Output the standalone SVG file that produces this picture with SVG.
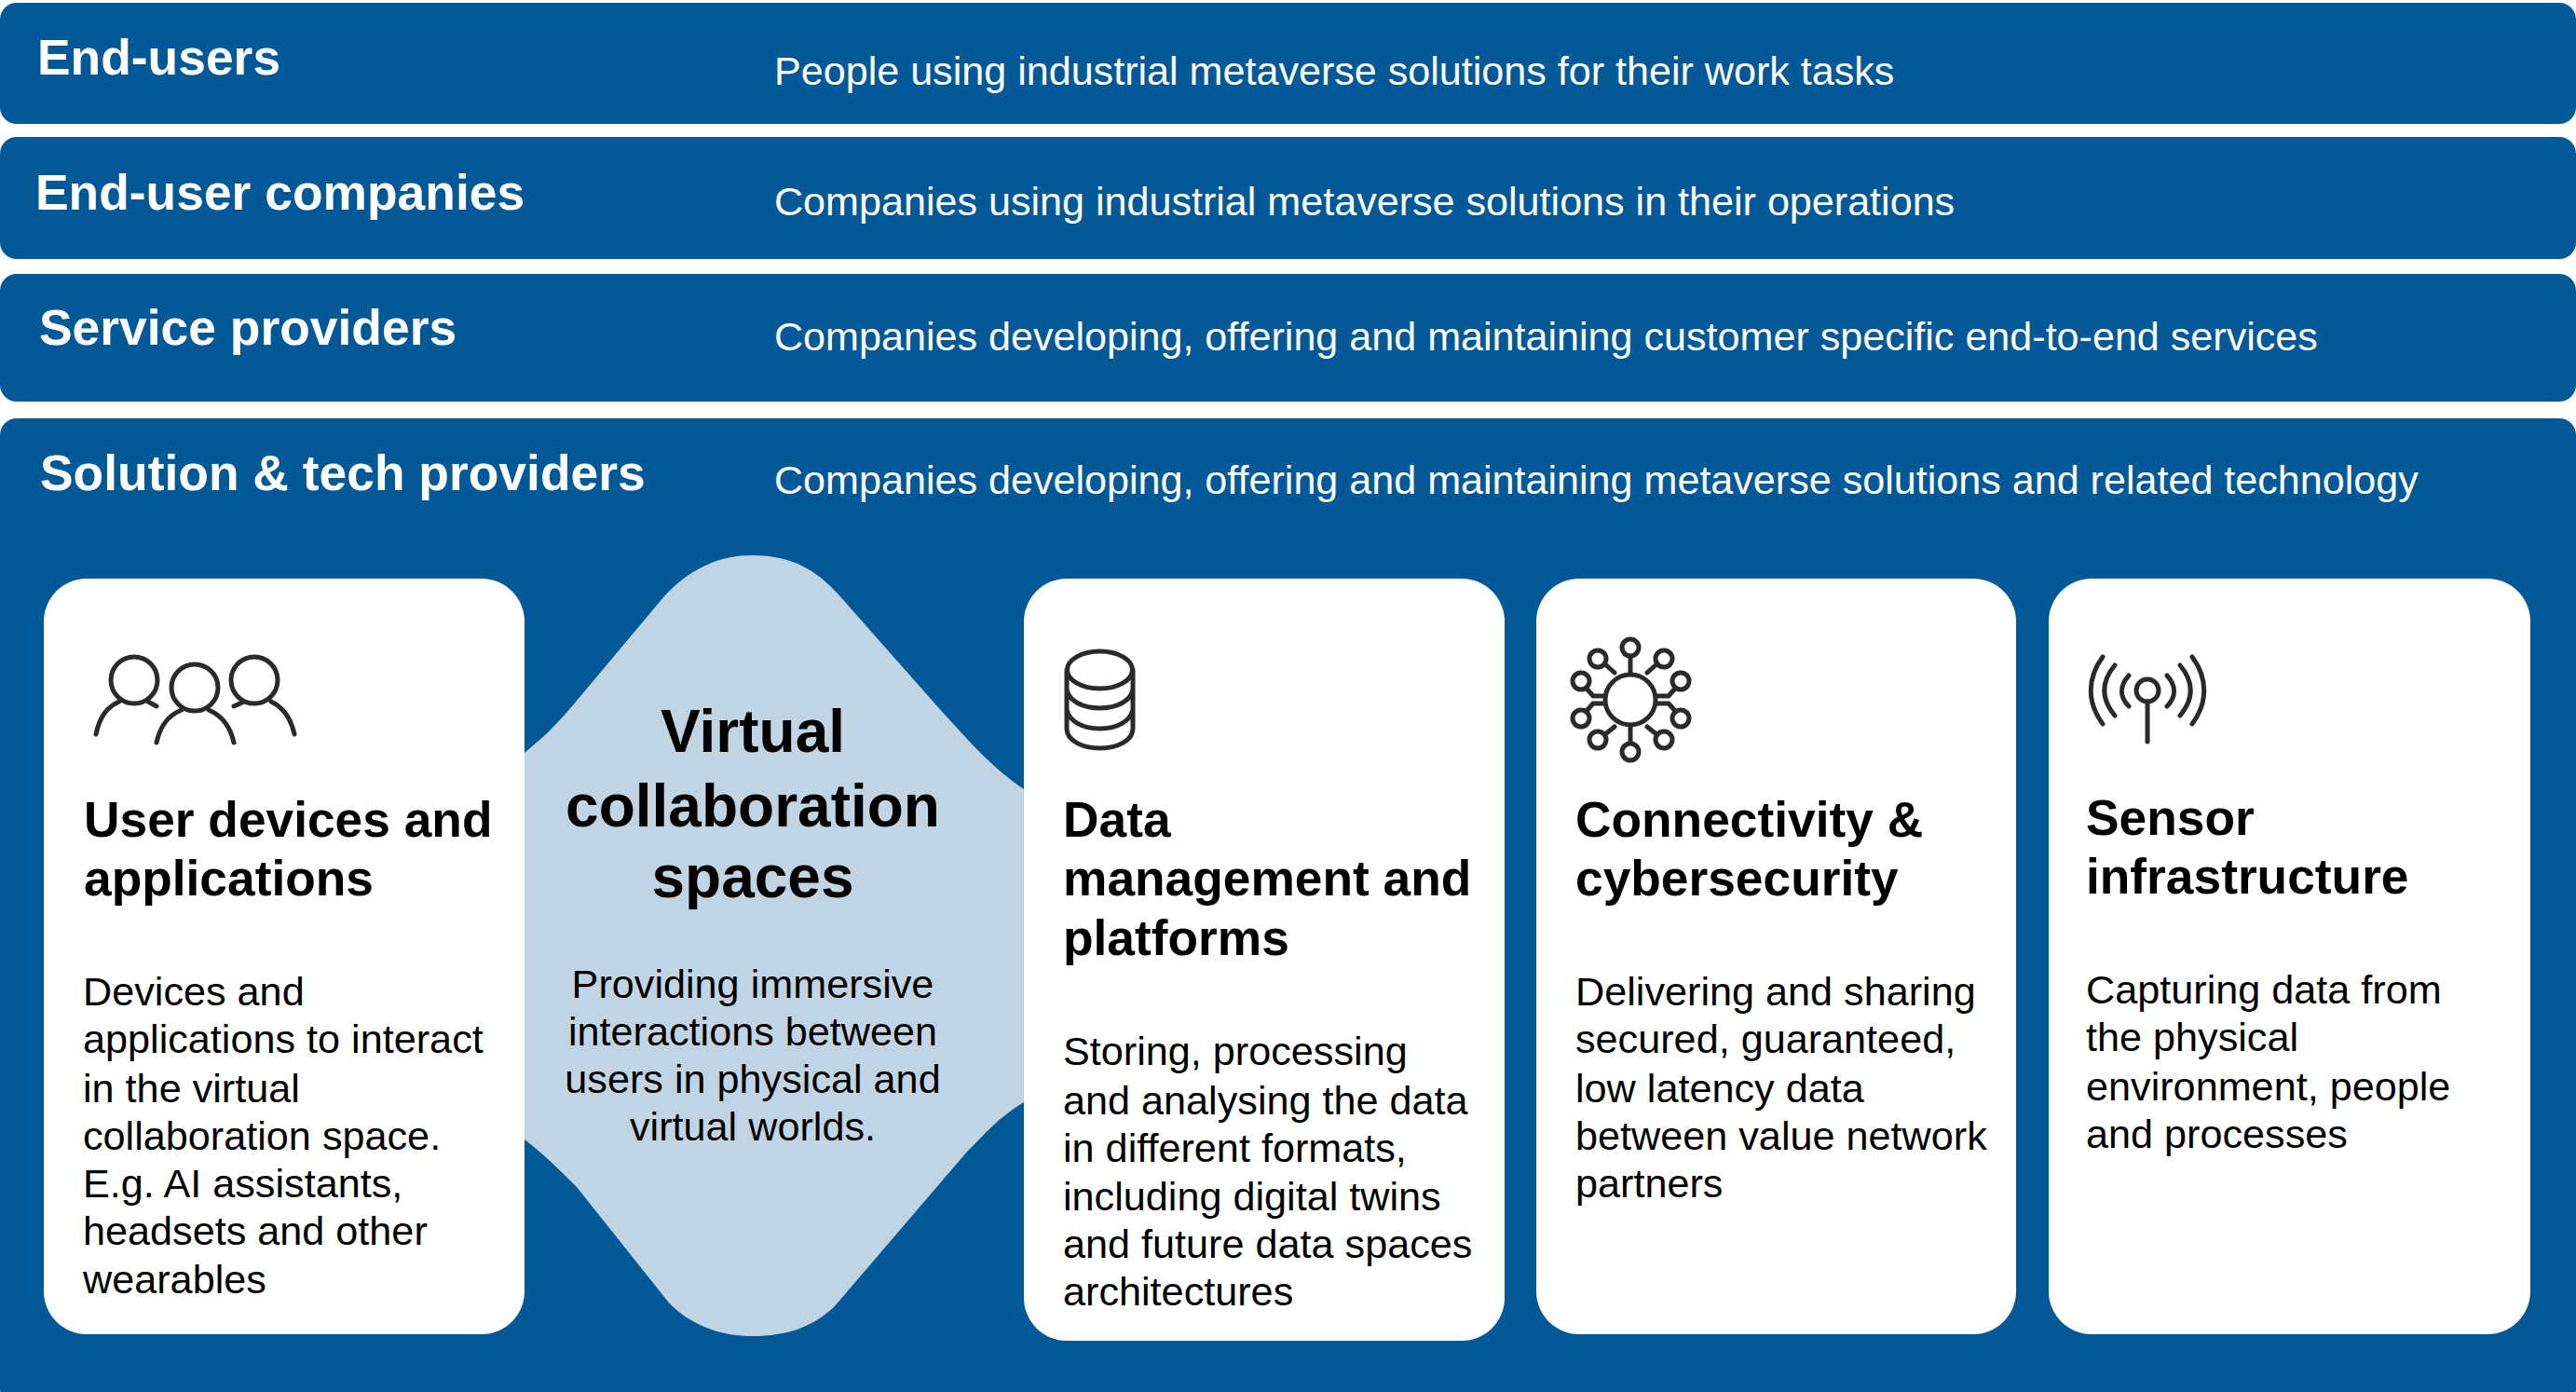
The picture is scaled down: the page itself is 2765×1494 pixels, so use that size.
<svg xmlns="http://www.w3.org/2000/svg" width="2765" height="1494" viewBox="0 0 2765 1494">
<style>
text{font-family:"Liberation Sans",Arial,sans-serif}
.band{fill:#035997}
.card{fill:#fff}
.bh{font-size:53.4px;font-weight:700;fill:#fff}
.bd{font-size:43.1px;fill:#fff}
.h{font-size:53.3px;font-weight:700;fill:#000}
.hx{font-size:64px;font-weight:700;fill:#000;text-anchor:middle}
.b{font-size:43.2px;fill:#000}
.ic{fill:none;stroke:#2b2a29;stroke-width:5;stroke-linecap:round}
.m{text-anchor:middle}
</style>
<rect width="2765" height="1494" fill="#fff"/>
<g id="end-users"><rect class="band" x="0" y="3" width="2765" height="130" rx="18"/><text class="bh" x="40" y="80">End-users</text><text class="bd" x="831" y="91">People using industrial metaverse solutions for their work tasks</text></g>
<g id="end-user-companies"><rect class="band" x="0" y="147" width="2765" height="131" rx="18"/><text class="bh" x="38" y="225">End-user companies</text><text class="bd" x="831" y="231">Companies using industrial metaverse solutions in their operations</text></g>
<g id="service-providers"><rect class="band" x="0" y="294" width="2765" height="137" rx="18"/><text class="bh" x="42" y="370">Service providers</text><text class="bd" x="831" y="376">Companies developing, offering and maintaining customer specific end-to-end services</text></g>
<g id="solution-tech-providers"><rect class="band" x="0" y="449" width="2765" height="1060" rx="18"/><text class="bh" x="43" y="526">Solution &amp; tech providers</text><text class="bd" x="831" y="530">Companies developing, offering and maintaining metaverse solutions and related technology</text></g>
<g id="virtual-collaboration-spaces">
<path fill="#c0d4e4" d="M563 808C585 790 600 775 619 752L713 640C735 616 765 596 808 596C850 596 876 612 899 637L1006 758C1035 790 1065 825 1099 847V1183C1070 1200 1050 1225 1038 1236L895 1403C872 1424 845 1434 808 1434C770 1434 738 1420 717 1397L619 1274C600 1255 585 1240 563 1223Z"/>
<text class="hx" x="808" y="807">Virtual</text><text class="hx" x="808" y="887">collaboration</text><text class="hx" x="808" y="963">spaces</text>
<text class="b m" x="808" y="1071">Providing immersive</text><text class="b m" x="808" y="1122">interactions between</text><text class="b m" x="808" y="1173">users in physical and</text><text class="b m" x="808" y="1224">virtual worlds.</text>
</g>
<g id="user-devices">
<rect class="card" x="47" y="621" width="516" height="811" rx="46"/>
<g class="ic"><circle cx="144" cy="730" r="25"/><circle cx="209" cy="738" r="25"/><circle cx="273" cy="730" r="25"/>
<path d="M103 788C107 770 114 759 128 753M159 753L168 758M251 758L260 754M291 753C304 759 312 770 316 788M168 797C172 779 180 768 195 762M224 762C238 768 247 779 251 797"/></g>
<text class="h" x="90" y="898">User devices and</text><text class="h" x="90" y="961">applications</text>
<text class="b" x="89" y="1079">Devices and</text><text class="b" x="89" y="1130">applications to interact</text><text class="b" x="89" y="1183">in the virtual</text><text class="b" x="89" y="1234">collaboration space.</text><text class="b" x="89" y="1285">E.g. AI assistants,</text><text class="b" x="89" y="1336">headsets and other</text><text class="b" x="89" y="1388">wearables</text>
</g>
<g id="data-management">
<rect class="card" x="1099" y="621" width="516" height="818" rx="46"/>
<g class="ic"><ellipse cx="1180.500" cy="719" rx="35" ry="20"/><path d="M1145 719V782C1145 795 1162 803 1180.500 803C1199 803 1216 795 1216 782V719M1145 740C1147 752 1162 760 1180.500 760C1199 760 1214 752 1216 740M1145 761C1147 774 1162 782 1180.500 782C1199 782 1214 774 1216 761"/></g>
<text class="h" x="1141" y="898">Data</text><text class="h" x="1141" y="961">management and</text><text class="h" x="1141" y="1025">platforms</text>
<text class="b" x="1141" y="1143">Storing, processing</text><text class="b" x="1141" y="1196">and analysing the data</text><text class="b" x="1141" y="1247">in different formats,</text><text class="b" x="1141" y="1299">including digital twins</text><text class="b" x="1141" y="1350">and future data spaces</text><text class="b" x="1141" y="1401">architectures</text>
</g>
<g id="connectivity">
<rect class="card" x="1649" y="621" width="515" height="811" rx="46"/>
<g class="ic"><circle cx="1750" cy="751" r="27"/><circle cx="1750" cy="695" r="9"/><circle cx="1715" cy="707" r="9"/><circle cx="1786" cy="707" r="9"/><circle cx="1697" cy="731" r="9"/><circle cx="1804" cy="731" r="9"/><circle cx="1697" cy="771" r="9"/><circle cx="1804" cy="771" r="9"/><circle cx="1715" cy="794" r="9"/><circle cx="1786" cy="794" r="9"/><circle cx="1750" cy="807" r="9"/>
<path d="M1750 705V723M1750 779V797M1723 713L1733 722M1778 713L1768 722M1723 788L1733 780M1778 788L1768 780M1703 739L1710 747H1722M1798 739L1791 747H1779M1703 763L1710 755H1722M1798 763L1791 755H1779"/></g>
<text class="h" x="1691" y="898">Connectivity &amp;</text><text class="h" x="1691" y="961">cybersecurity</text>
<text class="b" x="1691" y="1079">Delivering and sharing</text><text class="b" x="1691" y="1130">secured, guaranteed,</text><text class="b" x="1691" y="1183">low latency data</text><text class="b" x="1691" y="1234">between value network</text><text class="b" x="1691" y="1285">partners</text>
</g>
<g id="sensor-infrastructure">
<rect class="card" x="2199" y="621" width="517" height="811" rx="46"/>
<g class="ic"><circle cx="2305" cy="741" r="12"/><path d="M2305 753V796M2285 725C2275 736 2275 748 2285 758M2270 714C2255 732 2255 750 2270 768M2257 705C2240 728 2240 754 2257 777M2326 725C2336 736 2336 748 2326 758M2340 714C2355 732 2355 750 2340 768M2353 705C2370 728 2370 754 2353 777"/></g>
<text class="h" x="2239" y="896">Sensor</text><text class="h" x="2239" y="959">infrastructure</text>
<text class="b" x="2239" y="1077">Capturing data from</text><text class="b" x="2239" y="1128">the physical</text><text class="b" x="2239" y="1181">environment, people</text><text class="b" x="2239" y="1232">and processes</text>
</g>
</svg>
